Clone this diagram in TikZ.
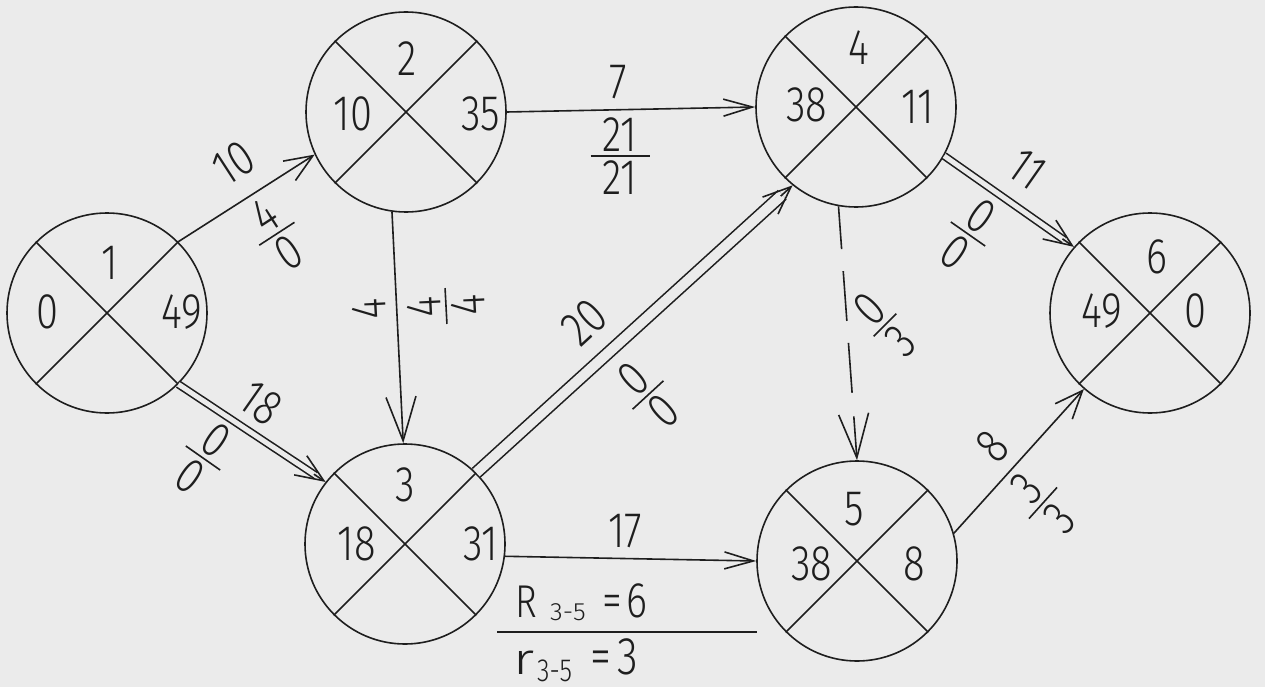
\documentclass[tikz,border=0pt]{standalone}
\usepackage{fontspec}
\usepackage{graphicx}
\setmainfont{Fira Sans Light}[FakeStretch=0.8]
\usetikzlibrary{arrows.meta,calc}
\definecolor{ink}{HTML}{1E1E1E}
\definecolor{paper}{HTML}{EBEBEB}
\newcommand\bigf{\fontsize{50}{56}\selectfont}
\newcommand\fr[3][42pt]{\vbox{\offinterlineskip\halign{\hfil##\hfil\cr #2\cr\noalign{\kern4pt}\rule{#1}{1.6pt}\cr\noalign{\kern4pt}#3\cr}}}
\begin{document}
\begin{tikzpicture}[x=1pt,y=-1pt,
  ln/.style={line width=1.6pt, draw=ink},
  ev/.style={circle, draw=ink, line width=1.6pt, minimum size=200pt, inner sep=0pt},
  lbl/.style={inner sep=0pt, text=ink, font=\bigf},
  arr/.style={ln, -{Straight Barb[length=28pt,width=23pt]}},
  arrh/.style={ln, -{Straight Barb[length=29pt,width=17pt]}},
  arrv/.style={ln, -{Straight Barb[length=44pt,width=30pt]}},
  dbl/.style={ln, double=paper, double distance=5pt},
  dummy/.style={ln, dash pattern=on 50pt off 22pt, dash phase=7pt}]
\fill[paper] (0,0) rectangle (1265,687);
\useasboundingbox (0,0) rectangle (1265,687);
% events
\node[ev] (n1) at (107,313) {};
\node[ev] (n2) at (406,112) {};
\node[ev] (n3) at (405,544) {};
\node[ev] (n4) at (856,107) {};
\node[ev] (n5) at (857,561) {};
\node[ev] (n6) at (1150,313) {};
\foreach \n in {n1,n2,n3,n4,n5,n6}{
  \draw[ln] (\n.45) -- (\n.225);
  \draw[ln] (\n.135) -- (\n.315);
}
% event texts
\node[lbl] (n1t) at (110,263) {1};
\node[lbl] (n1l) at (47,312) {0};
\node[lbl] (n1r) at (182,312) {49};
\node[lbl] (n2t) at (407,59) {2};
\node[lbl] (n2l) at (353,114) {10};
\node[lbl] (n2r) at (481,114) {35};
\node[lbl] (n3t) at (405,485) {3};
\node[lbl] (n3l) at (357,544) {18};
\node[lbl] (n3r) at (481,544) {31};
\node[lbl] (n4t) at (859,48) {4};
\node[lbl] (n4l) at (807,105) {38};
\node[lbl] (n4r) at (918,107) {11};
\node[lbl] (n5t) at (854,509) {5};
\node[lbl] (n5l) at (812,564) {38};
\node[lbl] (n5r) at (914,564) {8};
\node[lbl] (n6t) at (1157,257) {6};
\node[lbl] (n6l) at (1102,311) {49};
\node[lbl] (n6r) at (1195,311) {0};
% activities
\draw[arr] (n1.45) -- (n2.205);
\draw[dbl] (n1.-45) -- ($(n3.142)!12pt!(n1.-45)$);
\draw[arr] ($(n3.142)!14pt!(n1.-45)$) -- (n3.142);
\draw[arrv] (n2.262) -- (n3.91);
\draw[arrh] (n2.0) -- (n4.180);
\draw[dbl, double distance=10pt] (n3.45) -- ($(n4.231)!14pt!(n3.45)$);
\draw[arr] ($(n4.231)!16pt!(n3.45)$) -- (n4.231);
\draw[arrh] (n3.-7) -- (n5.180);
\draw[dummy] (n4.260) -- ($(n5.90)!64pt!(n4.260)$);
\draw[arrv] ($(n5.90)!44pt!(n4.260)$) -- (n5.90);
\draw[dbl] (n4.-29) -- ($(n6.139)!12pt!(n4.-29)$);
\draw[arr] ($(n6.139)!14pt!(n4.-29)$) -- (n6.139);
\draw[arr] (n5.16) -- (n6.229);
% activity labels
\node[lbl, rotate=33] (e12w) at (234,163) {10};
\node[lbl, rotate=33] (e12f) at (277,234) {\fr{4}{0}};
\node[lbl, rotate=-35] (e13w) at (261,403) {18};
\node[lbl, rotate=-35] (e13f) at (203,458) {\fr{0}{0}};
\node[lbl, rotate=93] (e23w) at (369,309) {4};
\node[lbl, rotate=93] (e23f) at (446,306) {\fr[36pt]{4}{4}};
\node[lbl] (e24w) at (618,82) {7};
\node[lbl] (e24f) at (620,156) {\fr[59pt]{21}{21}};
\node[lbl, rotate=42.6] (e34w) at (584,322) {20};
\node[lbl, rotate=42.6] (e34f) at (648,395) {\fr{0}{0}};
\node[lbl] (e35w) at (625,531) {17};
\node[lbl, rotate=45] (e45f) at (885,325) {\fr[32pt]{0}{3}};
\node[lbl, rotate=-35] (e46w) at (1027,169) {11};
\node[lbl, rotate=-35] (e46f) at (968,234) {\fr{0}{0}};
\node[lbl, rotate=48] (e56w) at (992,446) {8};
\node[lbl, rotate=48] (e56f) at (1043,503) {\fr{3}{3}};
% reserves of 3-5
\node[inner sep=0pt, anchor=base west, text=ink] (rR) at (515,617)
  {\makebox[35pt][l]{\fontsize{46}{48}\selectfont R}\makebox[52pt][l]{\raisebox{-3pt}{\fontsize{25}{26}\selectfont\scalebox{1.3}[1]{3-5}}}{\fontsize{50}{52}\selectfont =\hspace{5pt}6}};
\coordinate (bl) at (497,632);
\coordinate (br) at (757,632);
\draw[ln] (bl) -- (br);
\node[inner sep=0pt, anchor=base west, text=ink] (rr) at (513,674)
  {\makebox[24pt][l]{\fontsize{44}{46}\selectfont\scalebox{1.6}[1]{r}}\makebox[53pt][l]{\raisebox{-7pt}{\fontsize{32}{34}\selectfont 3-5}}{\fontsize{53}{56}\selectfont =\hspace{6pt}3}};
\end{tikzpicture}
\end{document}
